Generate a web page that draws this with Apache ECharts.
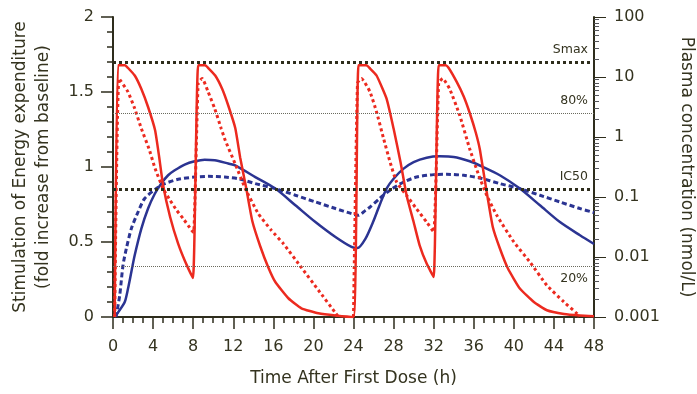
<!DOCTYPE html>
<html>
<head>
<meta charset="utf-8">
<script src="https://cdn.jsdelivr.net/npm/echarts@6/dist/echarts.min.js"></script>
<style>
  html, body { margin: 0; padding: 0; background: #fff; }
  #chart { width: 697px; height: 394px; }
</style>
</head>
<body>
<div id="chart"></div>
<script>
// time (h) vs stimulation (fold increase) -- left axis
const stimRed = [
  [0.17, 0], [0.5, 1.678], [1.2, 1.678], [1.5, 1.66], [2.17, 1.61], [2.83, 1.52], [3.5, 1.40],
  [4.2, 1.245], [4.6, 1.07], [5.0, 0.878], [5.7, 0.667], [6.5, 0.489], [7.2, 0.37], [7.98, 0.26],
  [8.5, 1.678], [9.2, 1.678], [9.5, 1.66], [10.2, 1.61], [10.9, 1.52], [11.5, 1.41], [12.2, 1.26],
  [12.7, 1.06], [13.3, 0.856], [13.9, 0.64], [14.7, 0.47], [15.5, 0.33], [16.2, 0.233], [17.5, 0.125],
  [18.8, 0.058], [20.5, 0.025], [22.2, 0.01], [24.0, 0],
  [24.5, 1.678], [25.3, 1.678], [25.6, 1.66], [26.3, 1.61], [27.3, 1.456], [28.0, 1.256], [28.7, 1.03],
  [29.3, 0.81], [30.0, 0.633], [30.6, 0.478], [31.3, 0.356], [32.0, 0.267],
  [32.5, 1.678], [33.2, 1.678], [33.5, 1.66], [34.3, 1.567], [35.0, 1.47], [35.6, 1.36], [36.2, 1.23],
  [36.6, 1.12], [37.3, 0.83], [37.9, 0.6], [38.6, 0.458], [39.4, 0.325], [40.6, 0.19], [42.0, 0.1],
  [43.3, 0.045], [45.0, 0.02], [46.6, 0.01], [48, 0.005]
];
const stimBlue = [
  [0.17, 0], [0.5, 0.03], [1.17, 0.1], [1.5, 0.19], [1.83, 0.3], [2.16, 0.41], [2.83, 0.589],
  [3.5, 0.723], [4.16, 0.82], [4.82, 0.89], [5.5, 0.945], [6.16, 0.978], [7.15, 1.016], [8.15, 1.038],
  [9.15, 1.049], [10.15, 1.045], [11.5, 1.023], [12.2, 1.011], [14.2, 0.933], [16.2, 0.856],
  [18.2, 0.745], [20.2, 0.633], [22.2, 0.533], [23.8, 0.467], [24.4, 0.46], [25.2, 0.523],
  [25.95, 0.633], [26.6, 0.745], [27.3, 0.856], [28.0, 0.922], [29.0, 0.989], [30.0, 1.033],
  [31.3, 1.062], [32.6, 1.071], [34.0, 1.067], [35.6, 1.038], [36.6, 1.01], [38.6, 0.945],
  [40.6, 0.856], [42.6, 0.745], [44.6, 0.633], [46.6, 0.545], [48, 0.487]
];

// time (h) vs plasma concentration (nmol/L) -- right log axis
const concRed = [
  [0.17, 0.001], [0.6, 9.44], [1.5, 5.62], [2.17, 2.97], [2.83, 1.38], [3.6, 0.631], [4.2, 0.299],
  [5.0, 0.138], [5.7, 0.0881], [6.36, 0.0599], [7.0, 0.0437], [7.85, 0.0279], [8.05, 0.0259],
  [8.5, 7.94], [8.9, 9.44], [9.5, 5.62], [10.15, 2.97], [10.8, 1.38], [11.2, 0.881], [12.2, 0.355],
  [13.2, 0.138], [14.5, 0.0528], [15.8, 0.0279], [17.0, 0.0167], [18.8, 0.00668], [20.5, 0.00279],
  [22.2, 0.00117], [22.5, 0.001], [23.3, '-'],
  [24.0, 0.001], [24.4, 7.94], [24.8, 9.44], [25.65, 5.62], [26.3, 2.62], [27.0, 0.944], [27.65, 0.382],
  [28.3, 0.178], [29.3, 0.106], [30.3, 0.0631], [31.3, 0.0382], [32.0, 0.0262],
  [32.5, 7.94], [32.9, 9.44], [33.6, 6.31], [34.6, 2.30], [35.6, 0.631], [36.5, 0.230], [37.3, 0.106],
  [38.3, 0.0495], [40.0, 0.0178], [41.6, 0.00827], [43.3, 0.00337], [45.0, 0.00178], [46.3, 0.00114],
  [46.5, 0.001]
];
const concBlue = [
  [0.3, 0.001], [0.67, 0.0023], [1.0, 0.0073], [1.33, 0.0138], [1.83, 0.0297], [2.5, 0.0562],
  [3.16, 0.0944], [4.3, 0.138], [5.16, 0.167], [6.5, 0.197], [8.15, 0.215], [9.5, 0.221],
  [11.15, 0.215], [12.5, 0.202], [14.2, 0.167], [16.2, 0.138], [18.2, 0.107], [20.2, 0.0827],
  [22.2, 0.0642], [23.8, 0.0528], [24.5, 0.0495], [25.2, 0.0599], [25.65, 0.068], [26.6, 0.0944],
  [27.65, 0.13], [29.0, 0.178], [30.3, 0.215], [32.0, 0.236], [33.3, 0.239], [35.0, 0.23],
  [36.6, 0.208], [38.6, 0.167], [40.6, 0.138], [42.6, 0.107], [44.6, 0.0827], [46.6, 0.0642], [48, 0.055]
];

// reference levels on the stimulation axis
const refNames = ['Smax', '80%', 'IC50', '20%'];
const refLevels = [1.7, 1.36, 0.855, 0.34];

// right axis tick labels, one per decade from 10^-3 to 10^2
const logLabels = ['0.001', '0.01', '0.1', '1', '10', '100'];

const ink = '#2e2d1c';
const txt = '#34331f';
const red = '#ec2a1f';
const blue = '#2b3492';
const font = 'DejaVu Sans';

// minor log ticks 2..9 per decade
const logMinor = [];
for (let d = 0.001; d < 99; d *= 10) {
  for (let k = 2; k <= 9; k++) logMinor.push(+(k * d).toPrecision(2));
}

const chart = echarts.init(document.getElementById('chart'));

const heavy = { color: ink, width: 3, type: [3, 3] };
const light = { color: '#6b6b5e', width: 1, type: [1, 1] };
const logBase = { type: 'log', logBase: 10, min: 0.001, max: 100, position: 'right', splitLine: { show: false } };

chart.setOption({
  animation: false,
  textStyle: { fontFamily: font },
  grid: { left: 113, right: 103, top: 17, bottom: 77, outerBoundsMode: 'none' },
  xAxis: {
    type: 'value',
    min: 0, max: 48, interval: 4,
    name: 'Time After First Dose (h)',
    nameLocation: 'middle',
    nameGap: 53,
    nameTextStyle: { fontSize: 17, color: txt },
    axisLine: { lineStyle: { color: ink, width: 2 } },
    axisTick: { show: true, length: 12, lineStyle: { color: ink, width: 1.5 } },
    minorTick: { show: true, splitNumber: 4, length: 6, lineStyle: { color: ink, width: 1.5 } },
    axisLabel: { fontSize: 16, color: txt, margin: 22 },
    splitLine: { show: false }
  },
  yAxis: [
    {
      type: 'value',
      min: 0, max: 2, interval: 0.5,
      name: 'Stimulation of Energy expenditure\n(fold increase from baseline)',
      nameLocation: 'middle',
      nameGap: 58,
      nameTextStyle: { fontSize: 17, color: txt, lineHeight: 23 },
      axisLine: { show: true, lineStyle: { color: ink, width: 2 } },
      axisTick: { show: true, length: 12, lineStyle: { color: ink, width: 1.5 } },
      minorTick: { show: true, splitNumber: 5, length: 6, lineStyle: { color: ink, width: 1.5 } },
      axisLabel: { fontSize: 16, color: txt, margin: 19 },
      splitLine: { show: false }
    },
    // log axis: line and major ticks
    Object.assign({}, logBase, {
      axisLine: { show: true, lineStyle: { color: ink, width: 2 } },
      axisTick: { show: true, length: 12 },
      axisLabel: { show: false }
    }),
    // decade labels and title (exponent scale, lines up with the log axis)
    {
      type: 'value',
      min: -3, max: 2, interval: 1,
      position: 'right',
      name: 'Plasma concentration (nmol/L)',
      nameLocation: 'middle',
      nameRotate: -90,
      nameGap: 84,
      nameTextStyle: { fontSize: 17, color: txt },
      axisLine: { show: false },
      axisTick: { show: false },
      axisLabel: { fontSize: 16, color: txt, margin: 20, formatter: v => logLabels[Math.round(v) + 3] },
      splitLine: { show: false }
    },
    // log axis: minor ticks 2..9
    Object.assign({}, logBase, {
      axisLine: { show: false },
      axisTick: { show: true, length: 5, customValues: logMinor },
      axisLabel: { show: false }
    })
  ],
  series: [
    {
      type: 'line', yAxisIndex: 1, data: concBlue,
      showSymbol: false, smooth: 0.25,
      lineStyle: { color: blue, width: 3, type: [5, 3] }
    },
    {
      type: 'line', yAxisIndex: 0, data: stimBlue,
      showSymbol: false, smooth: 0.25,
      lineStyle: { color: blue, width: 2.5 },
      markLine: {
        silent: true,
        symbol: ['none', 'none'],
        data: refLevels.map((v, i) => ({
          yAxis: v,
          name: refNames[i],
          lineStyle: (i === 0 || i === 2) ? heavy : light,
          label: {
            show: true,
            formatter: '{b}',
            position: i === 3 ? 'insideEndBottom' : 'insideEndTop',
            distance: 6,
            fontSize: 12.5,
            color: txt
          }
        }))
      }
    },
    {
      type: 'line', yAxisIndex: 1, data: concRed, connectNulls: false,
      showSymbol: false, smooth: 0.15,
      lineStyle: { color: red, width: 3, type: [3, 3] }
    },
    {
      type: 'line', yAxisIndex: 0, data: stimRed,
      showSymbol: false, smooth: 0.15,
      lineStyle: { color: red, width: 2.5 }
    }
  ]
});
</script>
</body>
</html>
